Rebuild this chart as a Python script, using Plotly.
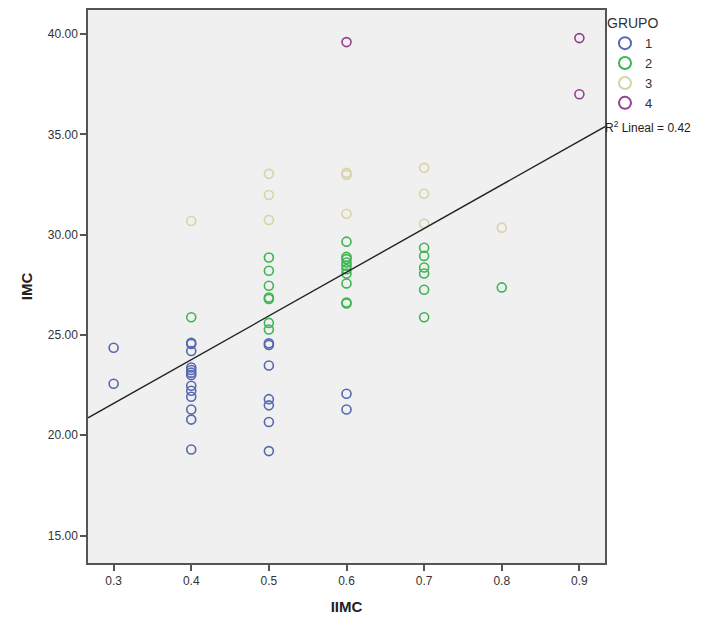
import numpy as np
import plotly.graph_objects as go

# ---- data ----
g1_x = [0.3, 0.3,
        0.4, 0.4, 0.4, 0.4, 0.4, 0.4, 0.4, 0.4, 0.4, 0.4, 0.4, 0.4, 0.4,
        0.5, 0.5, 0.5, 0.5, 0.5, 0.5, 0.5,
        0.6, 0.6]
g1_y = [24.36, 22.57,
        24.61, 24.55, 24.20, 23.38, 23.25, 23.12, 23.00, 22.47, 22.22, 21.92, 21.28, 20.78, 19.29,
        24.58, 24.50, 23.48, 21.80, 21.49, 20.66, 19.21,
        22.07, 21.28]

g2_x = [0.4,
        0.5, 0.5, 0.5, 0.5, 0.5, 0.5, 0.5,
        0.6, 0.6, 0.6, 0.6, 0.6, 0.6, 0.6, 0.6, 0.6, 0.6,
        0.7, 0.7, 0.7, 0.7, 0.7, 0.7,
        0.8]
g2_y = [25.88,
        28.86, 28.20, 27.45, 26.87, 26.79, 25.60, 25.27,
        29.65, 28.89, 28.78, 28.61, 28.45, 28.28, 28.06, 27.57, 26.62, 26.57,
        29.35, 28.94, 28.36, 28.06, 27.25, 25.88,
        27.37]

g3_x = [0.4, 0.5, 0.5, 0.5, 0.6, 0.6, 0.6, 0.7, 0.7, 0.7, 0.8]
g3_y = [30.68, 33.03, 31.98, 30.73, 33.08, 32.98, 31.04, 33.33, 32.04, 30.55, 30.35]

g4_x = [0.6, 0.9, 0.9]
g4_y = [39.60, 39.80, 37.00]

groups = ["1", "2", "3", "4"]
colors = ["#5668b0", "#3db552", "#d8d3a6", "#923f92"]

x_ticks = [0.3, 0.4, 0.5, 0.6, 0.7, 0.8, 0.9]
y_ticks = [15, 20, 25, 30, 35, 40]
X_RANGE = [0.267, 0.933]
Y_RANGE = [13.63, 41.20]
R2_LABEL = "0.42"

fig = go.Figure()
for name, xs, ys, c in zip(groups, [g1_x, g2_x, g3_x, g4_x], [g1_y, g2_y, g3_y, g4_y], colors):
    fig.add_trace(go.Scatter(
        x=xs, y=ys, mode="markers", name=name,
        marker=dict(symbol="circle-open", size=9, color=c, line=dict(width=1.6, color=c)),
    ))

# linear fit over all points
all_x = np.array(g1_x + g2_x + g3_x + g4_x)
all_y = np.array(g1_y + g2_y + g3_y + g4_y)
slope, intercept = np.polyfit(all_x, all_y, 1)
lx = np.array(X_RANGE)
fig.add_trace(go.Scatter(
    x=lx, y=intercept + slope * lx, mode="lines", showlegend=False,
    line=dict(color="#222222", width=1.4), hoverinfo="skip",
))

fig.add_annotation(
    x=X_RANGE[1], y=float(intercept + slope * X_RANGE[1]), xref="x", yref="y",
    text="R<sup>2</sup> Lineal = " + R2_LABEL, showarrow=False,
    xanchor="left", yanchor="middle", xshift=-2,
    font=dict(family="Liberation Sans, Arial", size=12, color="#222222"),
)

axis_common = dict(
    showgrid=False, zeroline=False, showline=True, mirror=True,
    linecolor="#555555", linewidth=1.5, ticks="outside", ticklen=6,
    tickcolor="#555555", tickwidth=1.5,
    tickfont=dict(family="Liberation Sans, Arial", size=12, color="#333333"),
)

# the page body adds an 8px offset, so the figure is sized to the remaining window
fig.update_layout(
    width=703, height=618,
    paper_bgcolor="white", plot_bgcolor="#f0f0f0",
    margin=dict(l=80, r=106, t=0, b=63),
    font=dict(family="Liberation Sans, Arial", size=12, color="#333333"),
    xaxis=dict(range=X_RANGE, tickvals=x_ticks, tickformat=".1f",
               title=dict(text="<b>IIMC</b>", font=dict(size=15, color="#222222"), standoff=14),
               **axis_common),
    yaxis=dict(range=Y_RANGE, tickvals=y_ticks, tickformat=".2f",
               title=dict(text="<b>IMC</b>", font=dict(size=15, color="#222222"), standoff=12),
               **axis_common),
    legend=dict(
        title=dict(text="GRUPO", font=dict(size=14, color="#333333")),
        x=1.0, xanchor="left", y=1.0, yanchor="top",
        bgcolor="rgba(0,0,0,0)", font=dict(size=13, color="#333333"),
        tracegroupgap=0, itemsizing="constant", itemwidth=30,
    ),
)

fig.write_html("out.html")
